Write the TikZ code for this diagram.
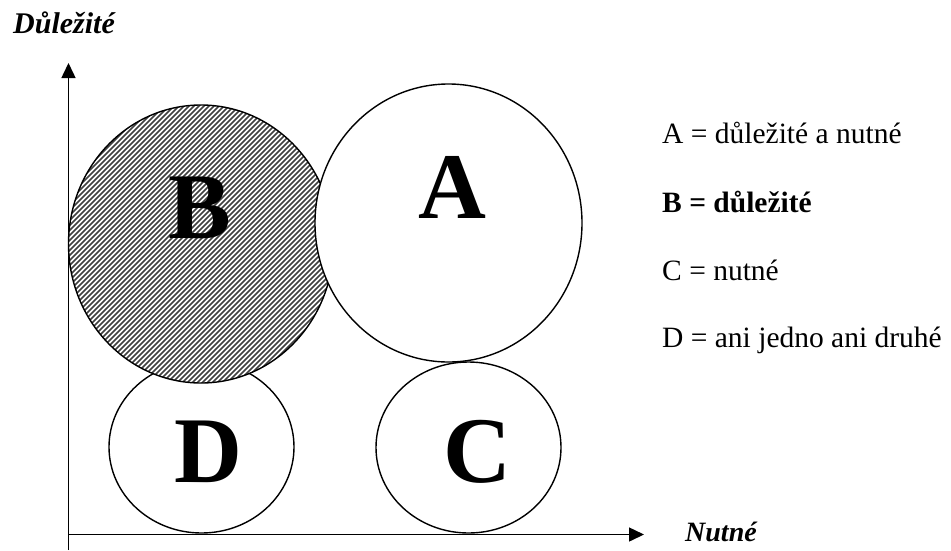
\documentclass[tikz,border=0pt]{standalone}
\usepackage{fontspec}
\setmainfont{Liberation Serif}
\usetikzlibrary{arrows.meta}
\begin{document}
\begin{tikzpicture}[x=1pt,y=-1pt,
  circ/.style={draw=black, line width=1.4pt},
  hatchline/.style={line width=1.5pt, black!75},
  big/.style={font=\fontsize{94}{94}\selectfont\bfseries, anchor=base, inner sep=0pt},
  leg/.style={font=\fontsize{29.5}{29.5}\selectfont, anchor=base west, inner sep=0pt},
  axislabel/.style={font=\fontsize{30}{30}\selectfont\bfseries\itshape, anchor=base west, inner sep=0pt},
  axisline/.style={line width=1.5pt, -{Triangle[length=15pt,width=14pt]}}]
\useasboundingbox[fill=white] (0,0) rectangle (951,550);
% axes
\coordinate (ybot) at (68.5,550);
\coordinate (ytip) at (68.5,63);
\coordinate (o) at (68.5,534.5);
\coordinate (xtip) at (644,534.5);
\draw[axisline] (ybot) -- (ytip);
\draw[axisline] (o) -- (xtip);
% D and C
\draw[circ, fill=white] (201.5,447) ellipse [x radius=92.5, y radius=86];
\draw[circ, fill=white] (468.5,447.5) ellipse [x radius=92.5, y radius=85.5];
% B hatched
\fill[white] (201,244) ellipse [x radius=132.5, y radius=139];
\begin{scope}
  \clip (201,244) ellipse [x radius=132.5, y radius=139];
  \foreach \k in {165,170,...,725} {
    \draw[hatchline] (\k-400,400) -- (\k-100,100);
  }
\end{scope}
\draw[circ] (201,244) ellipse [x radius=132.5, y radius=139];
% A
\draw[circ, fill=white] (448.5,223) ellipse [x radius=133.5, y radius=139];
% letters
\node[big] (lB) at (200,238) {B};
\node[big] (lA) at (452,218) {A};
\node[big] (lD) at (208,482) {D};
\node[big] (lC) at (477,482) {C};
% legend
\node[leg] (la) at (662,143) {A = důležité a nutné};
\node[leg, font=\fontsize{29.5}{29.5}\selectfont\bfseries] (lb) at (662,212) {B = důležité};
\node[leg] (lc) at (662,280) {C = nutné};
\node[leg] (ld) at (662,347) {D = ani jedno ani druhé};
% axis labels
\node[axislabel] (ty) at (13,33) {Důležité};
\node[axislabel, font=\fontsize{28}{28}\selectfont\bfseries\itshape] (tx) at (685,541) {Nutné};
\end{tikzpicture}
\end{document}
